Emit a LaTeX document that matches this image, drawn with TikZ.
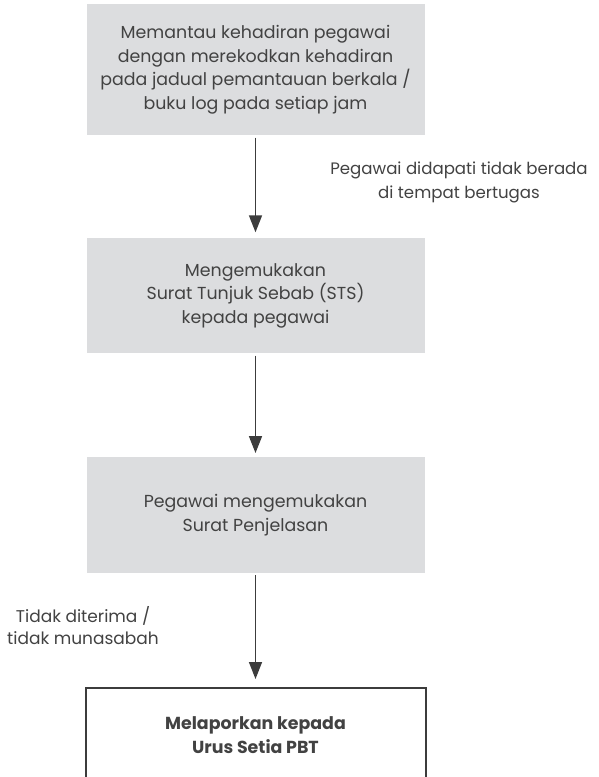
\documentclass[tikz,border=0pt]{standalone}
\usepackage{fontspec}
\setmainfont{Poppins}
\usetikzlibrary{arrows.meta}
\definecolor{boxgray}{HTML}{DCDDDF}
\definecolor{txt}{HTML}{424242}
\definecolor{linec}{HTML}{3C3C3C}
\tikzset{
  graybox/.style={fill=boxgray, draw=none, minimum width=338pt, inner sep=0pt, align=center, text=txt,
    font=\fontsize{17.4}{23.5}\selectfont},
  endbox/.style={draw=linec, line width=2pt, fill=none, minimum width=340pt, minimum height=94pt, inner sep=0pt,
    align=center, text=txt, font=\fontsize{17.4}{24.5}\selectfont\bfseries},
  flowarrow/.style={draw=linec, line width=1.6pt, -{Triangle[length=17pt,width=13pt]}, shorten <=2.5pt},
  lbl/.style={align=center, text=txt, inner sep=0pt, font=\fontsize{16.6}{24.5}\selectfont}
}
\begin{document}
\begin{tikzpicture}[x=1pt,y=-1pt]
\useasboundingbox (0,0) rectangle (598,777);
\node[graybox, minimum height=131pt] (b1) at (255.5,69.5) {Memantau kehadiran pegawai\\dengan merekodkan kehadiran\\pada jadual pemantauan berkala /\\buku log pada setiap jam};
\node[graybox, minimum height=115pt] (b2) at (255.5,295.5) {Mengemukakan\\Surat Tunjuk Sebab (STS)\\kepada pegawai};
\node[graybox, minimum height=115.5pt] (b3) at (255.5,515) {Pegawai mengemukakan\\Surat Penjelasan};
\node[endbox] (b4) at (255.5,735) {Melaporkan kepada\\Urus Setia PBT};
\node[lbl] (l1) at (459,182.5) {Pegawai didapati tidak berada\\di tempat bertugas};
\node[lbl, font=\fontsize{17}{22}\selectfont] (l2) at (83,626) {Tidak diterima /\\tidak munasabah};
\draw[flowarrow, shorten >=5.5pt] (b1.south) -- (b2.north);
\draw[flowarrow, shorten >=4pt] (b2.south) -- (b3.north);
\draw[flowarrow, shorten >=8pt] (b3.south) -- (b4.north);
\end{tikzpicture}
\end{document}
